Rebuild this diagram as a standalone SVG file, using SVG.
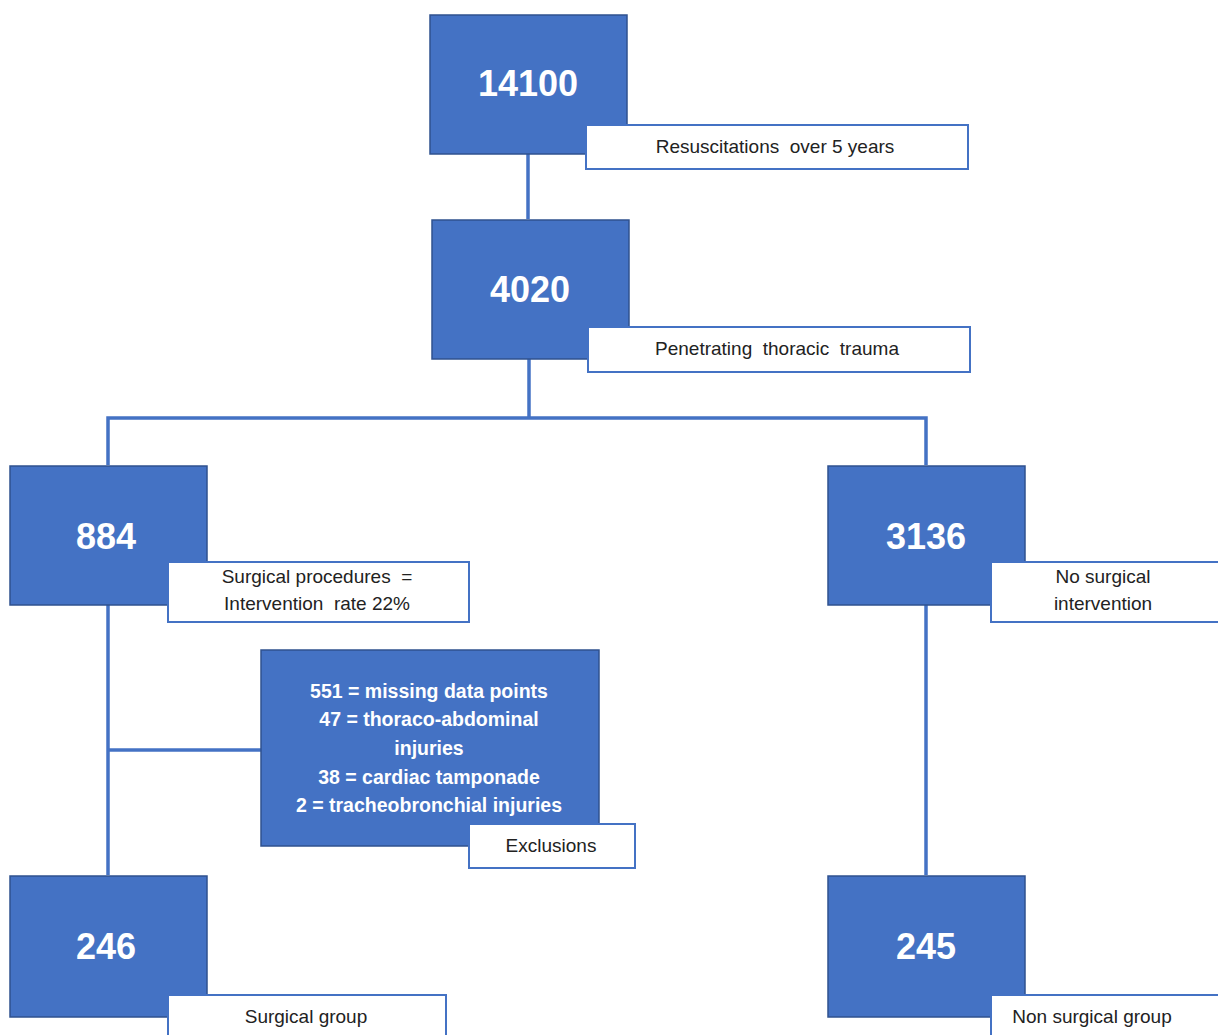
<svg xmlns="http://www.w3.org/2000/svg" width="1218" height="1035" viewBox="0 0 1218 1035">
<style>
.node{fill:#4472C4;stroke:#2F528F;stroke-width:1.5}
.lab{fill:#FFFFFF;stroke:#4472C4;stroke-width:2}
.num{font-family:"Liberation Sans",Arial,sans-serif;font-size:36px;font-weight:bold;fill:#FFFFFF;text-anchor:middle}
.txt{font-family:"Liberation Sans",Arial,sans-serif;font-size:19px;fill:#222222;text-anchor:middle;white-space:pre}
.exc{font-family:"Liberation Sans",Arial,sans-serif;font-size:19.5px;font-weight:bold;fill:#FFFFFF;text-anchor:middle}
.con{stroke:#4472C4;stroke-width:3.5;fill:none}
</style>
<rect width="1218" height="1035" fill="#FFFFFF"/>
<g id="connectors">
<line class="con" x1="528" y1="154" x2="528" y2="219"/>
<line class="con" x1="529" y1="359" x2="529" y2="418"/>
<polyline class="con" points="108,465 108,418 926,418 926,465"/>
<line class="con" x1="108" y1="605" x2="108" y2="875"/>
<line class="con" x1="108" y1="750" x2="261" y2="750"/>
<line class="con" x1="926" y1="605" x2="926" y2="875"/>
</g>
<g id="n14100">
<rect class="node" x="430" y="15" width="197" height="139"/>
<text class="num" x="528" y="96">14100</text>
<rect class="lab" x="586" y="125" width="382" height="44"/>
<text class="txt" x="775" y="153">Resuscitations  over 5 years</text>
</g>
<g id="n4020">
<rect class="node" x="432" y="220" width="197" height="139"/>
<text class="num" x="530" y="302">4020</text>
<rect class="lab" x="588" y="327" width="382" height="45"/>
<text class="txt" x="777" y="355">Penetrating  thoracic  trauma</text>
</g>
<g id="n884">
<rect class="node" x="10" y="466" width="197" height="139"/>
<text class="num" x="106" y="549">884</text>
<rect class="lab" x="168" y="562" width="301" height="60"/>
<text class="txt" x="317" y="583">Surgical procedures  =</text>
<text class="txt" x="317" y="610">Intervention  rate 22%</text>
</g>
<g id="n3136">
<rect class="node" x="828" y="466" width="197" height="139"/>
<text class="num" x="926" y="549">3136</text>
<rect class="lab" x="991" y="562" width="230" height="60"/>
<text class="txt" x="1103" y="583">No surgical</text>
<text class="txt" x="1103" y="610">intervention</text>
</g>
<g id="exclusions">
<rect class="node" x="261" y="650" width="338" height="196"/>
<text class="exc" x="429" y="698">551 = missing data points</text>
<text class="exc" x="429" y="726">47 = thoraco-abdominal</text>
<text class="exc" x="429" y="755">injuries</text>
<text class="exc" x="429" y="784">38 = cardiac tamponade</text>
<text class="exc" x="429" y="812">2 = tracheobronchial injuries</text>
<rect class="lab" x="469" y="824" width="166" height="44"/>
<text class="txt" x="551" y="852">Exclusions</text>
</g>
<g id="n246">
<rect class="node" x="10" y="876" width="197" height="141"/>
<text class="num" x="106" y="959">246</text>
<rect class="lab" x="168" y="995" width="278" height="45"/>
<text class="txt" x="306" y="1023">Surgical group</text>
</g>
<g id="n245">
<rect class="node" x="828" y="876" width="197" height="141"/>
<text class="num" x="926" y="959">245</text>
<rect class="lab" x="991" y="995" width="230" height="45"/>
<text class="txt" x="1092" y="1023">Non surgical group</text>
</g>
</svg>
